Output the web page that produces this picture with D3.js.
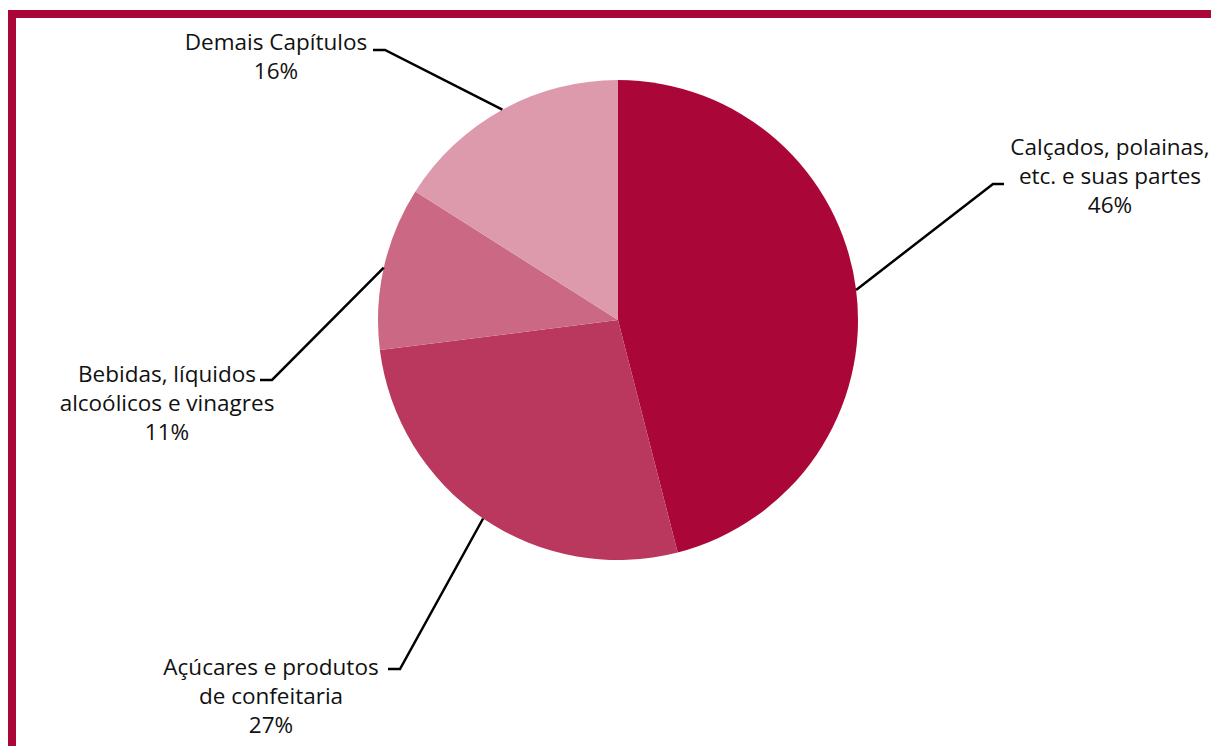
<!DOCTYPE html>
<html>
<head>
<meta charset="utf-8">
<script src="https://cdn.jsdelivr.net/npm/d3@7"></script>
<style>
  html, body { margin: 0; padding: 0; background: #fff; overflow: hidden; }
  svg { display: block; }
  text { font-family: "Open Sans", "Noto Sans", sans-serif; fill: #111; }
</style>
</head>
<body>
<svg id="chart" width="1211" height="746"></svg>
<script>
// Export composition by chapter (share of total, %)
const categories = [
  "Calçados, polainas, etc. e suas partes",
  "Açúcares e produtos de confeitaria",
  "Bebidas, líquidos alcoólicos e vinagres",
  "Demais Capítulos"
];
const shares = [46, 27, 11, 16];
const labelLines = [
  ["Calçados, polainas,", "etc. e suas partes"],
  ["Açúcares e produtos", "de confeitaria"],
  ["Bebidas, líquidos", "alcoólicos e vinagres"],
  ["Demais Capítulos"]
];
const sliceColors = ["#AA0637", "#BA375E", "#CB6883", "#DC9AAC"];

// Label placement: text block centre/first baseline and leader elbow
const labelLayout = [
  { tx: 1110, ty: 155, elbowX: 993, elbowY: 184, endX: 1004 },
  { tx: 271,  ty: 675, elbowX: 400, elbowY: 669, endX: 388 },
  { tx: 167,  ty: 382, elbowX: 272, elbowY: 380, endX: 260 },
  { tx: 276,  ty: 50,  elbowX: 385, elbowY: 50,  endX: 373 }
];

const svg = d3.select("#chart");
const W = 1211, H = 746;
const cx = 618, cy = 320, radius = 240;

// Frame
svg.append("rect")
  .attr("x", 12).attr("y", 14)
  .attr("width", W + 20).attr("height", H + 20)
  .attr("fill", "none")
  .attr("stroke", "#AA0637")
  .attr("stroke-width", 8);

const data = categories.map((c, i) => ({ name: c, value: shares[i], lines: labelLines[i], color: sliceColors[i], layout: labelLayout[i] }));

const pie = d3.pie().sort(null).value(d => d.value);
const arc = d3.arc().innerRadius(0).outerRadius(radius);
const arcs = pie(data);

const g = svg.append("g").attr("transform", `translate(${cx},${cy})`);
g.selectAll("path.slice")
  .data(arcs)
  .join("path")
  .attr("class", "slice")
  .attr("d", arc)
  .attr("fill", d => d.data.color);

// Leader lines from the slice rim to each label
const lineGen = d3.line();
arcs.forEach(a => {
  const mid = (a.startAngle + a.endAngle) / 2;
  const px = cx + radius * Math.sin(mid);
  const py = cy - radius * Math.cos(mid);
  const L = a.data.layout;
  svg.append("path")
    .attr("d", lineGen([[px, py], [L.elbowX, L.elbowY], [L.endX, L.elbowY]]))
    .attr("fill", "none")
    .attr("stroke", "#000")
    .attr("stroke-width", 2.5);

  const t = svg.append("text")
    .attr("text-anchor", "middle")
    .attr("font-size", 22.5);
  const lines = a.data.lines.concat([a.data.value + "%"]);
  lines.forEach((ln, i) => {
    t.append("tspan")
      .attr("x", L.tx)
      .attr("y", L.ty + i * 29)
      .text(ln);
  });
});
</script>
</body>
</html>
